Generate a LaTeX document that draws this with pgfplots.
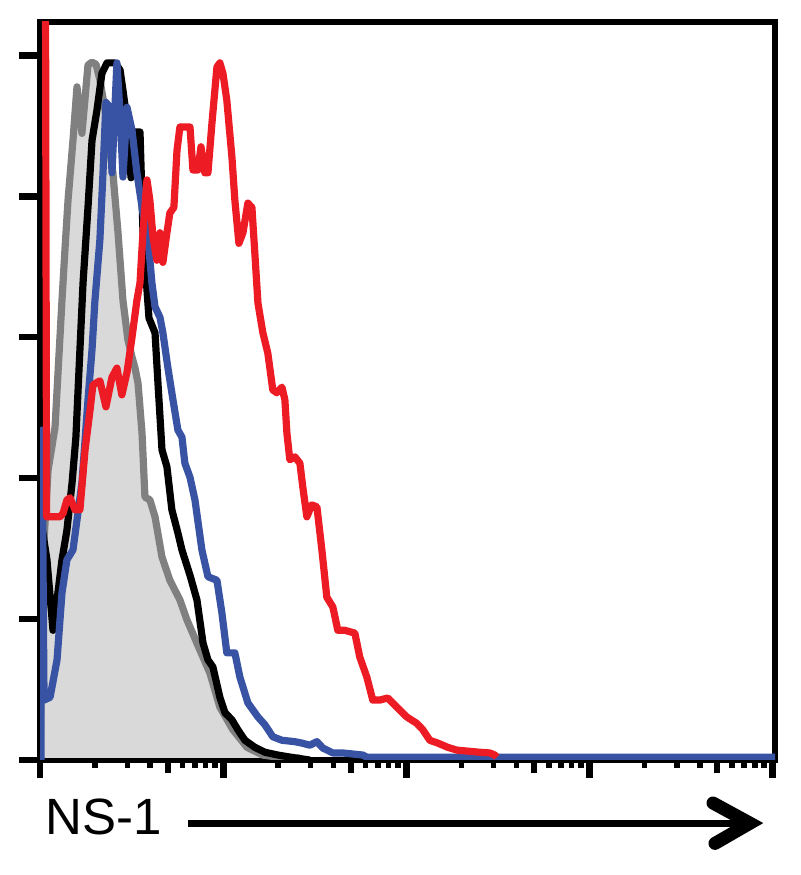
\documentclass[border=0pt]{standalone}
\usepackage{pgfplots}
\pgfplotsset{compat=1.18}
\usepackage{fontspec}
\setmainfont{Liberation Sans}
\definecolor{nsred}{HTML}{ED1C24}
\definecolor{nsblue}{HTML}{3953A4}
\definecolor{nsgray}{HTML}{808080}
\definecolor{nsfill}{HTML}{D9D9D9}

\pgfplotstableread{
u y
0.000 0.3
0.016 28.4
0.044 41.1
0.082 47.2
0.120 65.2
0.136 72.3
0.153 79.4
0.180 87.9
0.202 95.5
0.229 88.9
0.262 98.6
0.284 99.0
0.306 98.7
0.327 96.5
0.355 92.2
0.382 86.5
0.398 83.3
0.426 74.8
0.453 65.2
0.480 59.6
0.502 57.2
0.518 55.7
0.535 53.5
0.557 46.4
0.573 37.3
0.600 36.9
0.628 34.5
0.666 28.8
0.709 25.5
0.764 22.7
0.802 19.9
0.873 15.6
0.928 12.3
0.982 7.5
1.053 4.3
1.130 1.8
1.217 0.7
1.326 0.3
1.419 0.3
}\graydata

\pgfplotstableread{
u y
0.005 34.0
0.038 28.4
0.071 18.4
0.093 22.7
0.120 28.4
0.147 32.6
0.175 39.3
0.196 45.8
0.218 58.2
0.235 67.7
0.262 78.4
0.284 87.9
0.311 92.2
0.338 97.4
0.366 98.9
0.409 98.9
0.437 97.9
0.453 95.0
0.475 90.8
0.497 82.6
0.518 89.1
0.546 89.1
0.562 75.2
0.584 66.7
0.595 62.7
0.628 60.6
0.644 53.5
0.666 44.0
0.693 41.6
0.720 35.5
0.753 32.2
0.775 29.8
0.819 26.2
0.857 22.7
0.890 16.6
0.917 14.2
0.944 13.2
0.982 8.9
1.010 6.7
1.048 5.7
1.080 4.3
1.119 2.8
1.173 1.8
1.228 1.1
1.299 0.7
1.392 0.3
1.473 0.0
}\blackdata

\pgfplotstableread{
u y
0.005 0.0
0.011 46.8
0.022 8.5
0.055 8.9
0.093 14.2
0.120 23.7
0.147 28.4
0.180 29.8
0.229 39.3
0.262 51.1
0.284 58.2
0.300 65.2
0.327 73.8
0.344 83.3
0.360 93.3
0.382 92.6
0.393 83.3
0.420 98.9
0.437 91.8
0.453 82.7
0.475 92.6
0.502 89.4
0.529 83.3
0.562 77.6
0.589 74.2
0.611 67.7
0.628 64.3
0.655 62.8
0.671 60.6
0.698 55.7
0.726 51.1
0.753 46.8
0.775 45.8
0.791 42.1
0.819 40.1
0.846 36.9
0.884 29.8
0.917 26.0
0.966 25.5
0.993 20.9
1.020 15.2
1.064 15.2
1.091 11.8
1.135 8.1
1.190 6.1
1.228 5.0
1.271 3.3
1.321 2.8
1.392 2.6
1.430 2.4
1.473 2.1
1.512 2.6
1.544 1.7
1.599 1.0
1.653 1.0
1.763 0.7
1.784 0.4
4.013 0.4
}\bluedata

\pgfplotstableread{
u y
0.030 110.0
0.036 34.5
0.065 34.5
0.109 34.5
0.126 35.0
0.147 36.9
0.164 37.2
0.191 35.5
0.218 35.5
0.246 44.0
0.273 49.6
0.289 53.2
0.327 53.8
0.360 50.1
0.393 54.3
0.420 55.6
0.447 51.8
0.475 55.0
0.502 59.9
0.529 65.2
0.546 67.7
0.562 74.8
0.584 82.3
0.600 79.4
0.617 74.2
0.638 70.9
0.655 74.8
0.671 70.6
0.693 74.8
0.709 77.6
0.731 78.4
0.748 86.5
0.764 89.8
0.819 89.8
0.835 83.7
0.862 83.7
0.879 87.0
0.900 83.3
0.917 83.3
0.939 90.4
0.966 98.3
0.982 98.9
0.999 97.4
1.020 93.6
1.048 85.5
1.064 79.4
1.086 73.3
1.108 74.8
1.135 79.0
1.157 78.4
1.173 71.9
1.190 64.8
1.217 60.6
1.244 57.7
1.271 52.5
1.293 52.1
1.321 52.9
1.337 51.1
1.348 46.4
1.364 42.6
1.392 43.0
1.419 42.1
1.435 38.7
1.457 34.5
1.484 36.2
1.512 35.9
1.539 29.8
1.566 23.1
1.599 21.7
1.626 18.4
1.664 18.4
1.719 18.0
1.746 14.6
1.784 11.8
1.817 8.5
1.855 8.5
1.899 8.8
1.948 7.5
2.003 6.1
2.057 5.2
2.090 4.3
2.128 2.8
2.172 2.4
2.226 1.8
2.276 1.4
2.401 1.1
2.456 1.0
2.483 0.7
2.494 0.4
}\reddata

\begin{document}
\begin{tikzpicture}[x=1pt,y=1pt]
\path[use as bounding box] (0,0) rectangle (400,437.5);
\begin{axis}[
  at={(20pt,57.5pt)}, anchor=south west,
  scale only axis, width=367.5pt, height=369pt,
  xmin=0, xmax=4.013, ymin=0, ymax=104.7,
  axis line style={line width=3.4pt, line join=miter},
  tick align=outside, tick pos=left,
  major tick length=9pt, minor tick length=4pt,
  major tick style={line width=3.4pt, black},
  minor tick style={line width=2.8pt, black},
  xtick={0,1,2,3,4}, xticklabels={},
  minor xtick={0.301,0.477,0.602,0.778,0.845,0.903,0.954,
               1.301,1.477,1.602,1.778,1.845,1.903,1.954,
               2.301,2.477,2.602,2.778,2.845,2.903,2.954,
               3.301,3.477,3.602,3.778,3.845,3.903,3.954},
  extra x ticks={0.699,1.699,2.699,3.699}, extra x tick labels={},
  extra x tick style={major tick length=6.5pt, major tick style={line width=3pt}},
  ytick=\empty,
  minor ytick={5,10,15,25,30,35,45,50,55,65,70,75,85,90,95},
  extra y ticks={0,20,40,60,80,100}, extra y tick labels={},
  extra y tick style={major tick length=10.5pt},
  every axis plot/.append style={line width=3.6pt, line join=round},
]
\addplot[draw=none, fill=nsfill] table[x=u, y=y] {\graydata};
\addplot[nsgray] table[x=u, y=y] {\graydata};
\addplot[black] table[x=u, y=y] {\blackdata};
\addplot[nsblue] table[x=u, y=y] {\bluedata};
\addplot[nsred] table[x=u, y=y] {\reddata};
\end{axis}
\node[anchor=base west, inner sep=0pt, font=\fontsize{25.5}{30}\selectfont] at (22.5,20) {NS-1};
\draw[line width=3.3pt] (94,25.75) -- (372,25.75);
\draw[line width=6.5pt, line cap=round, line join=miter, miter limit=10] (356.5,36) -- (375,25.9) -- (357.5,15.8);
\end{tikzpicture}
\end{document}
